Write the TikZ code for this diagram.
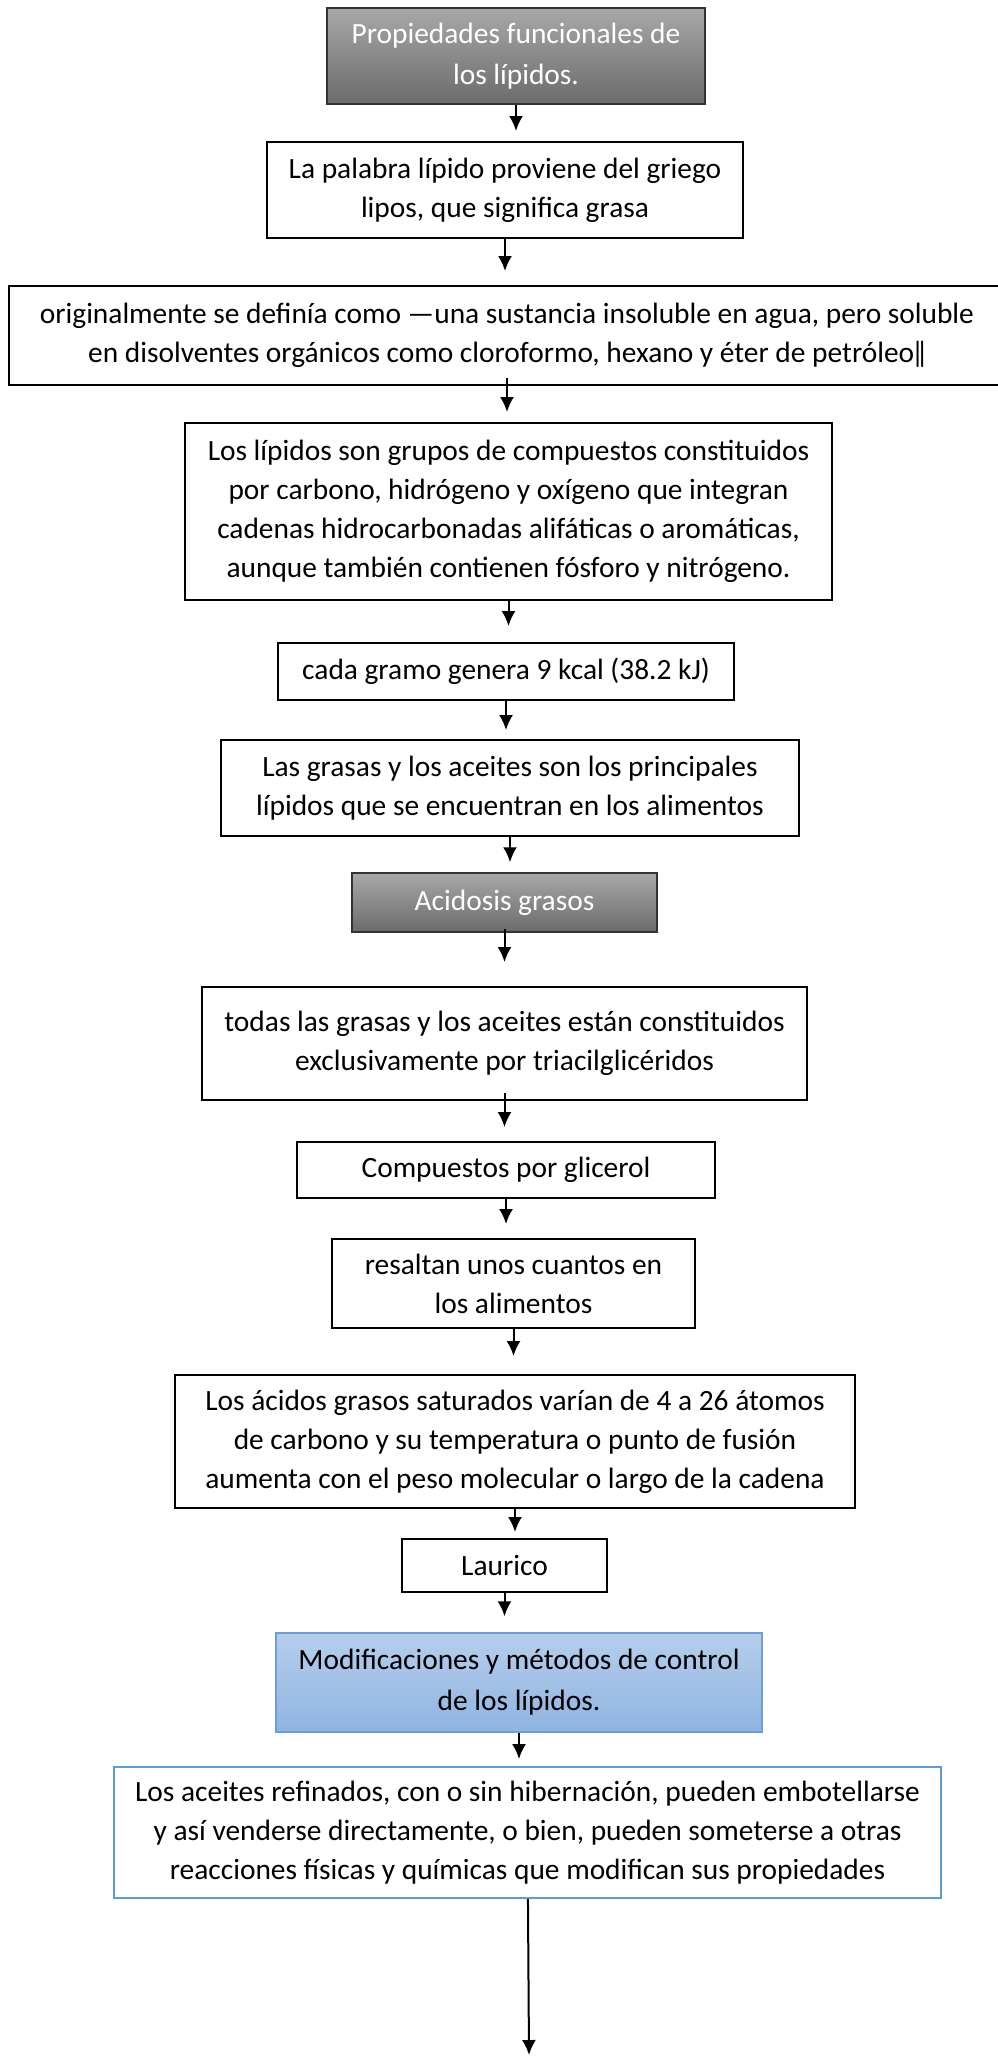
\documentclass[tikz,border=0pt]{standalone}
\usepackage{fontspec}
\setmainfont{Carlito}
\usetikzlibrary{shapes,arrows.meta}
\definecolor{grisarriba}{HTML}{A8A8A8}
\definecolor{grisabajo}{HTML}{6B6B6B}
\definecolor{azularriba}{HTML}{B6CEEB}
\definecolor{azulabajo}{HTML}{8FB4E2}
\definecolor{azulborde}{HTML}{6C9FD7}
\definecolor{azullinea}{HTML}{5B9BD5}
\tikzset{
	box/.style       = {draw, line width=2pt, rectangle, align=center, fill=white},
	title/.style     = {draw=black!80, line width=1.5pt, rectangle, align=center,
		top color=grisarriba, bottom color=grisabajo, text=white,
		font=\fontsize{29.4}{41}\selectfont},
	bluetitle/.style = {draw=azulborde, line width=1.5pt, rectangle, align=center,
		top color=azularriba, bottom color=azulabajo,
		font=\fontsize{29.4}{41}\selectfont},
	bluebox/.style   = {draw=azullinea, line width=2pt, rectangle, align=center, fill=white},
	output/.style    = {coordinate} % Output
}

\begin{document}
\begin{tikzpicture}[x=1pt, y=-1pt, line width=2pt, inner sep=0pt,
	>={Latex[length=15pt,width=14pt]}, font=\fontsize{29.4}{39}\selectfont]
	\useasboundingbox (0,0) rectangle (997,2059);
	\draw

	node at (516,56) [title, minimum width=378, minimum height=96] (d1) {Propiedades funcionales de\\los lípidos.}
	node at (505,190) [box, minimum width=476, minimum height=96] (d2) {La palabra lípido proviene del griego\\lipos, que significa grasa}
	node at (507,335.5) [box, minimum width=996, minimum height=99] (d3) {originalmente se definía como —una sustancia insoluble en agua, pero soluble\\en disolventes orgánicos como cloroformo, hexano y éter de petróleo‖}
	node at (508.5,511.5) [box, minimum width=647, minimum height=177] (d4) {Los lípidos son grupos de compuestos constituidos\\por carbono, hidrógeno y oxígeno que integran\\cadenas hidrocarbonadas alifáticas o aromáticas,\\aunque también contienen fósforo y nitrógeno.}
	node at (506,671.5) [box, minimum width=456, minimum height=57] (d5) {cada gramo genera 9 kcal (38.2 kJ)}
	node at (510,788) [box, minimum width=578, minimum height=96] (d6) {Las grasas y los aceites son los principales\\lípidos que se encuentran en los alimentos}
	node at (504.5,902.5) [title, minimum width=305, minimum height=59] (d7) {Acidosis grasos}
	node at (504.5,1043.5) [box, minimum width=605, minimum height=113] (d8) {todas las grasas y los aceites están constituidos\\exclusivamente por triacilglicéridos}
	node at (506,1170) [box, minimum width=418, minimum height=56] (d9) {Compuestos por glicerol}
	node at (513.5,1283.5) [box, minimum width=363, minimum height=89] (d10) {resaltan unos cuantos en\\los alimentos}
	node at (515,1441.5) [box, minimum width=680, minimum height=133] (d11) {Los ácidos grasos saturados varían de 4 a 26 átomos\\de carbono y su temperatura o punto de fusión\\aumenta con el peso molecular o largo de la cadena}
	node at (504.5,1565.5) [box, minimum width=205, minimum height=53] (d12) {Laurico}
	node at (519,1682.5) [bluetitle, minimum width=486, minimum height=99] (d13) {Modificaciones y métodos de control\\de los lípidos.}
	node at (527.5,1832.5) [bluebox, minimum width=827, minimum height=131] (d14) {Los aceites refinados, con o sin hibernación, pueden embotellarse\\y así venderse directamente, o bien, pueden someterse a otras\\reacciones físicas y químicas que modifican sus propiedades}
	node at (529,2055) [output] (fin) {};

	\draw[->, shorten >=10pt](d1)--(d1|-d2.north);
	\draw[->, shorten >=14pt](d2)--(d2|-d3.north);
	\draw[->, shorten <=-8pt, shorten >=10pt](d3)--(d3|-d4.north);
	\draw[->, shorten >=16pt](d4)--(d4|-d5.north);
	\draw[->, shorten >=9pt](d5)--(d5|-d6.north);
	\draw[->, shorten >=10pt](d6)--(d6|-d7.north);
	\draw[->, shorten <=-4pt, shorten >=24pt](d7)--(d7|-d8.north);
	\draw[->, shorten <=-8pt, shorten >=14pt](d8)--(d8|-d9.north);
	\draw[->, shorten >=14pt](d9)--(d9|-d10.north);
	\draw[->, shorten >=18pt](d10)--(d10|-d11.north);
	\draw[->, shorten >=6pt](d11)--(d11|-d12.north);
	\draw[->, shorten >=16pt](d12)--(d12|-d13.north);
	\draw[->, shorten >=7pt](d13)--(d13|-d14.north);
	\draw[->](d14)--(fin);
\end{tikzpicture}
\end{document}
